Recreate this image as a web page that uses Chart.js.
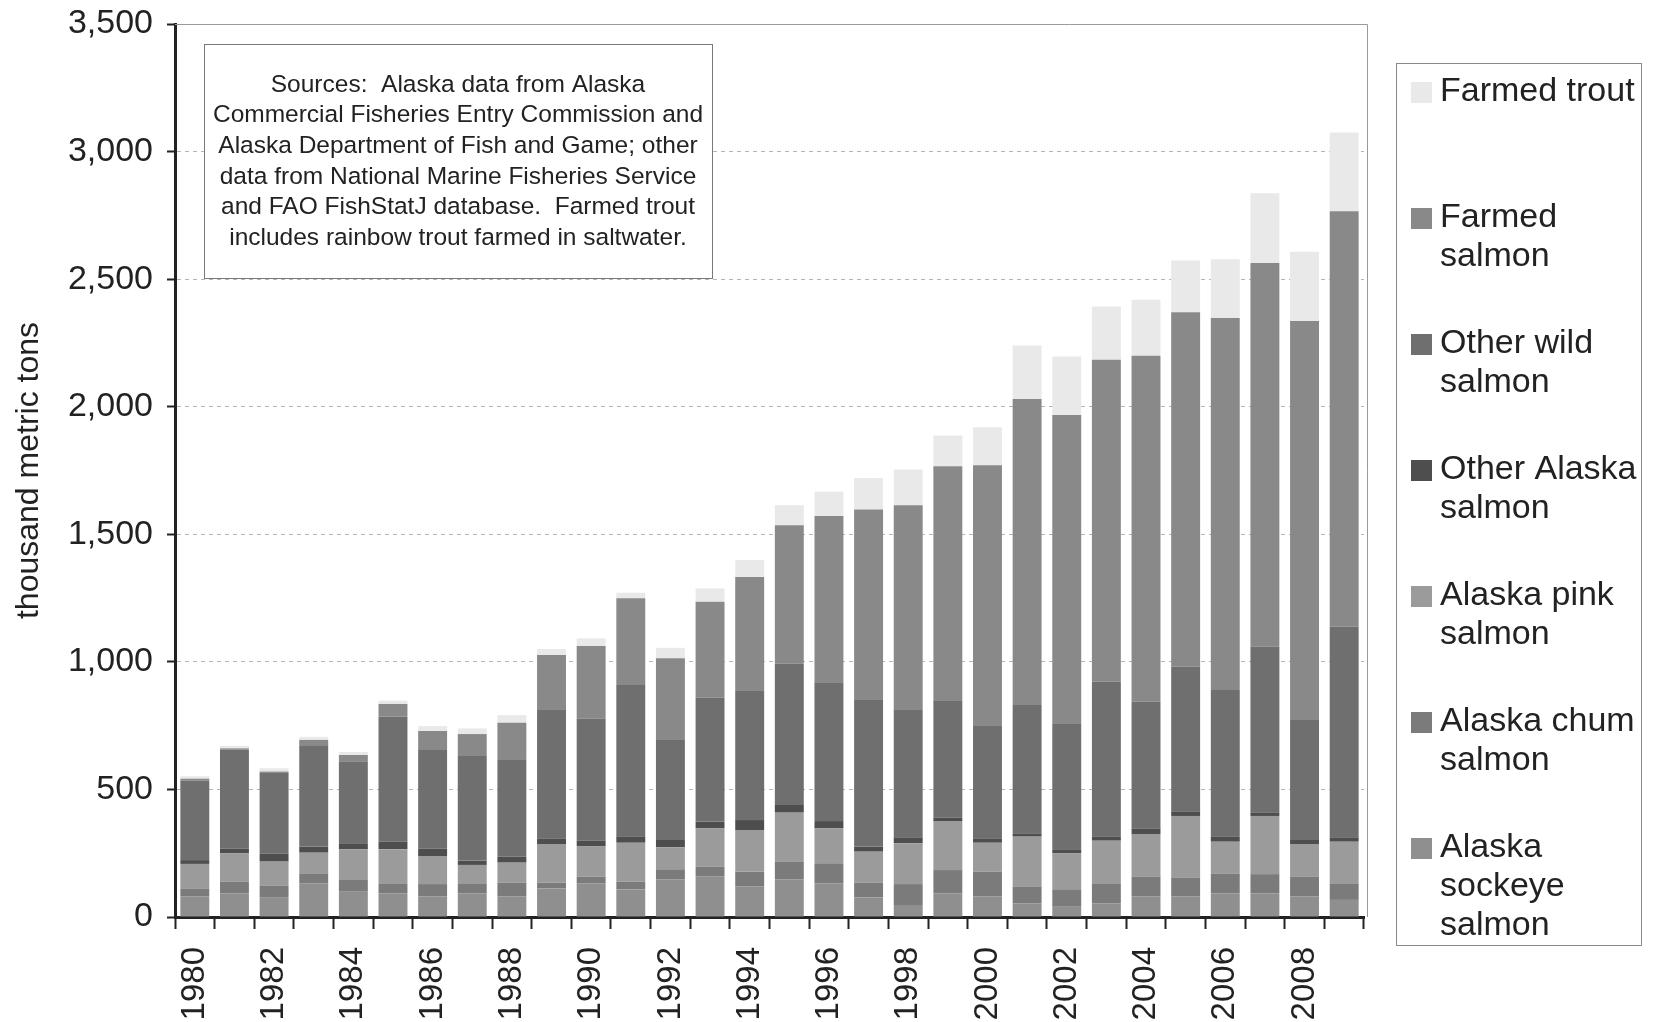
<!DOCTYPE html>
<html>
<head>
<meta charset="utf-8">
<script src="https://cdn.jsdelivr.net/npm/chart.js@4/dist/chart.umd.min.js"></script>
<style>
  html, body { margin: 0; padding: 0; background: #fff; }
</style>
</head>
<body>
<canvas id="salmonChart" width="1655" height="1022"></canvas>
<script>
var years = [1980, 1981, 1982, 1983, 1984, 1985, 1986, 1987, 1988, 1989,
             1990, 1991, 1992, 1993, 1994, 1995, 1996, 1997, 1998, 1999,
             2000, 2001, 2002, 2003, 2004, 2005, 2006, 2007, 2008, 2009];

// thousand metric tons
var alaskaSockeye = [80, 93, 78, 132, 99, 93, 80, 93, 80, 112, 132, 108, 148, 158, 119, 148, 132, 77, 47, 93, 80, 54, 40, 54, 80, 80, 93, 93, 80, 67];
var alaskaChum    = [32, 45, 44, 39, 46, 39, 49, 39, 55, 23, 26, 30, 39, 39, 59, 69, 76, 58, 82, 91, 98, 65, 66, 78, 78, 75, 78, 75, 78, 65];
var alaskaPink    = [96, 111, 95, 81, 120, 133, 110, 72, 78, 151, 120, 153, 86, 150, 163, 192, 139, 121, 160, 190, 113, 196, 143, 167, 167, 241, 124, 228, 128, 163];
var otherAlaska   = [15, 20, 31, 24, 24, 30, 30, 17, 23, 21, 21, 24, 29, 27, 39, 30, 29, 20, 23, 15, 17, 13, 16, 16, 22, 17, 20, 13, 16, 17];
var otherWild     = [312, 386, 317, 394, 320, 490, 388, 410, 382, 507, 479, 594, 395, 485, 509, 555, 544, 577, 502, 461, 444, 503, 494, 607, 497, 568, 575, 650, 470, 826];
var farmedSalmon  = [7, 6, 5, 24, 26, 50, 72, 86, 143, 213, 284, 340, 317, 377, 444, 541, 652, 744, 800, 917, 1019, 1199, 1209, 1262, 1356, 1389, 1458, 1504, 1564, 1628];
var farmedTrout   = [10, 10, 13, 12, 12, 13, 19, 22, 30, 23, 30, 22, 41, 52, 66, 79, 95, 124, 140, 120, 149, 210, 229, 209, 219, 203, 230, 274, 271, 309];

var seriesLines = [
    ['Alaska', 'sockeye', 'salmon'],
    ['Alaska chum', 'salmon'],
    ['Alaska pink', 'salmon'],
    ['Other Alaska', 'salmon'],
    ['Other wild', 'salmon'],
    ['Farmed', 'salmon'],
    ['Farmed trout']
];
var seriesColors = ['#8f8f8f', '#7b7b7b', '#9b9b9b', '#4e4e4e', '#6f6f6f', '#898989', '#e9e9e9'];

var noteLines = [
    'Sources:  Alaska data from Alaska',
    'Commercial Fisheries Entry Commission and',
    'Alaska Department of Fish and Game; other',
    'data from National Marine Fisheries Service',
    'and FAO FishStatJ database.  Farmed trout',
    'includes rainbow trout farmed in saltwater.'
];

var FONT = 'Arial, "Liberation Sans", sans-serif';
var TEXT = '#222';

var seriesData = [alaskaSockeye, alaskaChum, alaskaPink, otherAlaska, otherWild, farmedSalmon, farmedTrout];
var datasets = seriesData.map(function (d, i) {
    return {
        label: seriesLines[i].join(' '),
        data: d,
        backgroundColor: seriesColors[i],
        borderWidth: 0,
        barPercentage: 0.73,
        categoryPercentage: 1.0
    };
});

// note box, legend and plot frame
var extrasPlugin = {
    id: 'extras',
    afterDraw: function (chart) {
        var ctx = chart.ctx;
        var area = chart.chartArea;
        ctx.save();

        // frame top + right
        ctx.strokeStyle = '#9a9a9a';
        ctx.lineWidth = 1;
        ctx.beginPath();
        ctx.moveTo(area.left, area.top + 0.5);
        ctx.lineTo(area.right + 3.5, area.top + 0.5);
        ctx.lineTo(area.right + 3.5, area.bottom);
        ctx.stroke();

        // note box
        ctx.fillStyle = '#fff';
        ctx.fillRect(204, 44, 508, 234);
        ctx.strokeStyle = '#7a7a7a';
        ctx.strokeRect(204.5, 44.5, 508, 234);
        ctx.fillStyle = TEXT;
        ctx.font = '24.5px ' + FONT;
        ctx.textAlign = 'center';
        ctx.textBaseline = 'middle';
        noteLines.forEach(function (line, i) {
            ctx.fillText(line, 458, 85 + i * 30.6);
        });

        // legend
        ctx.strokeStyle = '#8a8a8a';
        ctx.strokeRect(1396.5, 63.5, 245, 882);
        ctx.font = '34px ' + FONT;
        ctx.textAlign = 'left';
        for (var k = 0; k < seriesLines.length; k++) {
            var idx = seriesLines.length - 1 - k;
            var cy = 92 + k * 126;
            ctx.fillStyle = seriesColors[idx];
            ctx.fillRect(1411, cy - 10, 21, 21);
            ctx.fillStyle = TEXT;
            seriesLines[idx].forEach(function (line, j) {
                ctx.fillText(line, 1440, cy + j * 39);
            });
        }
        ctx.restore();
    }
};

var ctx = document.getElementById('salmonChart');
var salmonChart = new Chart(ctx, {
    type: 'bar',
    data: { labels: years, datasets: datasets },
    options: {
        responsive: false,
        animation: false,
        devicePixelRatio: 1,
        layout: { padding: { top: 24, right: 291, bottom: 0, left: 0 } },
        plugins: {
            legend: { display: false },
            tooltip: { enabled: false }
        },
        scales: {
            x: {
                stacked: true,
                offset: true,
                afterFit: function (scale) { scale.height = 105; },
                grid: {
                    display: true,
                    offset: true,
                    drawOnChartArea: false,
                    tickLength: 12,
                    tickColor: '#222',
                    tickWidth: 2
                },
                border: { color: '#222', width: 3 },
                ticks: {
                    autoSkip: false,
                    maxRotation: 90,
                    minRotation: 90,
                    padding: 18,
                    color: TEXT,
                    font: { family: FONT, size: 33 },
                    callback: function (v, i) { return i % 2 === 0 ? String(years[i]) : ''; }
                }
            },
            y: {
                stacked: true,
                min: 0,
                max: 3500,
                afterFit: function (scale) {
                    scale.width = 175;
                    scale.paddingTop = 0;
                    scale.paddingBottom = 0;
                },
                grid: {
                    color: '#b5b5b5',
                    lineWidth: 1,
                    tickLength: 8,
                    tickColor: '#222',
                    tickWidth: 2,
                    tickBorderDash: []
                },
                border: { color: '#222', width: 3, dash: [4, 4] },
                ticks: {
                    stepSize: 500,
                    padding: 14,
                    color: TEXT,
                    font: { family: FONT, size: 34 },
                    callback: function (v) { return v.toLocaleString('en-US'); }
                },
                title: {
                    display: true,
                    text: 'thousand metric tons',
                    color: TEXT,
                    font: { family: FONT, size: 32 },
                    padding: { top: 10, bottom: 0 }
                }
            }
        }
    },
    plugins: [extrasPlugin]
});
</script>
</body>
</html>
